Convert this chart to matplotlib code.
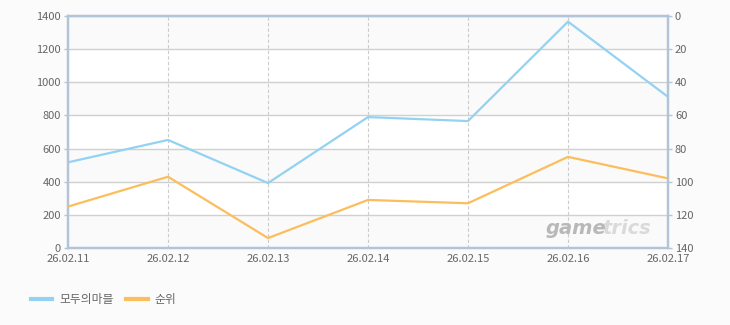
import matplotlib
matplotlib.use("Agg")
import matplotlib.pyplot as plt
from matplotlib.lines import Line2D

plt.rcParams['font.family'] = ['Noto Sans CJK KR', 'DejaVu Sans']

dates = ["26.02.11", "26.02.12", "26.02.13", "26.02.14", "26.02.15", "26.02.16", "26.02.17"]
players = [517, 652, 392, 790, 766, 1366, 912]
rank = [115, 97, 134, 111, 113, 85, 98]
series_names = ["모두의마블", "순위"]

blue = "#93d2f2"
orange = "#fcbe5c"
spine_c = "#b2c4d8"
txt_c = "#666666"

fig = plt.figure(figsize=(7.3, 3.25), dpi=100, facecolor="#fbfbfb")
ax = fig.add_axes([68/730, 1-248/325, 600/730, 232/325])
ax.set_facecolor("white")
x = list(range(len(dates)))

for i, y0 in enumerate(range(0, 1400, 200)):
    if i % 2 == 0:
        ax.axhspan(y0, y0 + 200, color="#fafafa", zorder=0, lw=0)

ax.set_xlim(0, len(dates) - 1)
ax.set_ylim(0, 1400)
ax.set_yticks(range(0, 1401, 200))
ax.set_xticks(x)
ax.set_xticklabels(dates)
ax.grid(axis="y", color="#d0d0d0", lw=1, ls="-", zorder=1)
ax.grid(axis="x", color="#cccccc", lw=0.8, ls=(0, (3, 2)), zorder=1)
ax.plot(x, players, color=blue, lw=1.6, zorder=3)

ax2 = ax.twinx()
ax2.set_ylim(140, 0)
ax2.set_yticks(range(0, 141, 20))
ax2.plot(x, rank, color=orange, lw=1.6, zorder=3)

for a in (ax, ax2):
    for s in a.spines.values():
        s.set_color(spine_c)
        s.set_linewidth(1.6)
    a.tick_params(colors=txt_c, labelsize=8, length=3, width=1)
    a.tick_params(axis="y", length=3, color=spine_c, pad=2)
    a.tick_params(axis="x", length=0, pad=4)

t1 = fig.text(546/730, 1-238/325, "game", ha="left", va="bottom",
              fontsize=14, fontstyle="italic", fontweight="bold", color="#b8b8b8",
              family="DejaVu Sans")
ax.annotate("trics", xy=(1, 0), xycoords=t1, xytext=(-3, 0), textcoords="offset points",
            ha="left", va="bottom",
            fontsize=14, fontstyle="italic", fontweight="bold", color="#dadada",
            family="DejaVu Sans")

handles = [Line2D([], [], color=blue, lw=3), Line2D([], [], color=orange, lw=3)]
fig.legend(handles, series_names, loc="lower left", bbox_to_anchor=(20/730, 8/325),
           ncol=2, frameon=False, fontsize=8.5, labelcolor=txt_c, handlelength=1.8,
           columnspacing=1.1, handletextpad=0.6)

fig.savefig("out.png", dpi=100, facecolor=fig.get_facecolor())
